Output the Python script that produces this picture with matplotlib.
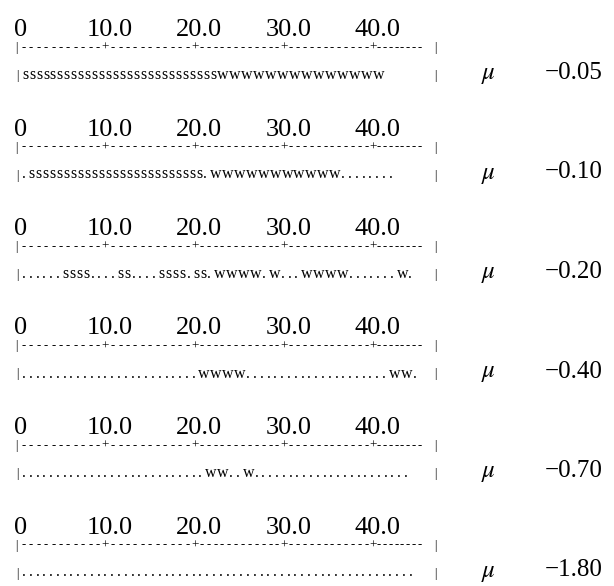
import numpy as np
import matplotlib
matplotlib.use('Agg')
import matplotlib.pyplot as plt
import matplotlib.transforms as mtransforms

# chain position scale shown on each ruler
tick_values = [0, 10, 20, 30, 40]
tick_labels = ['0', '10.0', '20.0', '30.0', '40.0']
ruler_end = 47
dash_counts = [11, 11, 12, 12, 8]  # dashes between the ruler marks

# one symbol line per mu value (s / w / . states along the chain)
mu_values = [-0.05, -0.10, -0.20, -0.40, -0.70, -1.80]
symbol_rows = [
    '|' + 's' * 28 + 'w' * 14,
    '|.' + 's' * 25 + '.' + 'w' * 11 + '.' * 8,
    '|......ssss....ss....ssss.ss.wwww.w...wwww.......w.',
    '|' + '.' * 26 + 'wwww' + '.' * 21 + 'ww.',
    '|' + '.' * 27 + 'ww..w' + '.' * 23,
    '|' + '.' * 58,
]

# character advances along the line, in chain units
advance = {'|': 0.67, '.': 0.76, 's': 0.78, 'w': 1.34}

plt.rcParams['font.family'] = ['Liberation Serif', 'DejaVu Serif']
plt.rcParams['mathtext.fontset'] = 'stix'

W, H = 614, 586
fig = plt.figure(figsize=(W / 100, H / 100), dpi=100)
ax = fig.add_axes([0, 0, 1, 1])
# x: chain units (0 at the left bar), y: pixel rows from top
x0_px, unit_px = 16.0, 8.93
ax.set_xlim(-x0_px / unit_px, (W - x0_px) / unit_px)
ax.set_ylim(H, 0)
ax.axis('off')

# x in axes fraction, y in data
col = mtransforms.blended_transform_factory(ax.transAxes, ax.transData)

row_gap = 99.5
for r, mu in enumerate(mu_values):
    base = 1 + r * row_gap

    # tick labels
    for v, lab in zip(tick_values, tick_labels):
        ax.text(v + 0.5, base + 35, lab, ha='center', va='baseline', fontsize=19)

    # ruler: bars at the ends, + at the ticks, dashes between
    marks = tick_values[1:]
    ax.text(0, base + 50, '|', ha='center', va='baseline', fontsize=8.5)
    ax.text(ruler_end, base + 50, '|', ha='center', va='baseline', fontsize=8.5)
    for v in marks:
        ax.text(v, base + 50, '+', ha='center', va='baseline', fontsize=9.5)
    edges = [0] + marks + [ruler_end - 1.2]
    for (a, b), n in zip(zip(edges[:-1], edges[1:]), dash_counts):
        xs = np.linspace(a, b, n + 2)[1:-1]
        for xd in xs:
            ax.text(xd, base + 50, '-', ha='center', va='baseline', fontsize=9)

    # symbol line
    pos = 0.0
    for ch in symbol_rows[r]:
        ax.text(pos, base + 78, ch, ha='left', va='baseline',
                fontsize=8.5 if ch == '|' else 11.5)
        pos += advance[ch]
    ax.text(ruler_end, base + 78, '|', ha='center', va='baseline', fontsize=8.5)

    # mu column
    ax.text(488 / W, base + 78, r'$\mu$', transform=col, ha='center',
            va='baseline', fontsize=18)
    ax.text(603 / W, base + 78, f'{mu:.2f}'.replace('-', '\u2212'),
            transform=col, ha='right', va='baseline', fontsize=18)

fig.savefig('out.png', dpi=100, facecolor='white')
